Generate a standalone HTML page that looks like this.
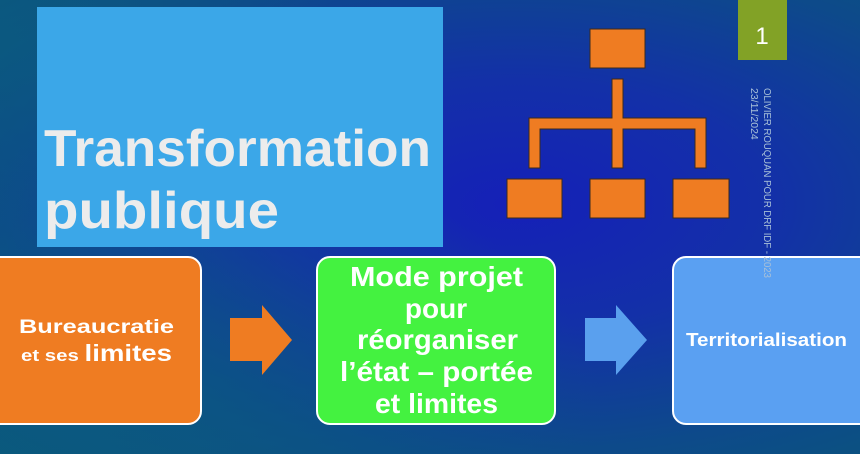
<!DOCTYPE html>
<html><head><meta charset="utf-8"><style>
html,body{margin:0;padding:0}
body{width:860px;height:454px;overflow:hidden;position:relative;
background:radial-gradient(ellipse at 60% 45%,#1520b8 0%,#1330a8 35%,#0d4a8a 70%,#0a5878 100%);
font-family:"Liberation Sans",sans-serif}
svg{position:absolute;left:0;top:0}
</style></head><body>
<svg width="860" height="454" viewBox="0 0 860 454">
<defs><radialGradient id="g1" cx="0.1" cy="0.9" r="0.6"><stop offset="0" stop-color="#0b5a80" stop-opacity="0.8"/><stop offset="1" stop-color="#0b5a80" stop-opacity="0"/></radialGradient>
<radialGradient id="g2" cx="0.0" cy="0.1" r="0.4"><stop offset="0" stop-color="#0b5a80" stop-opacity="0.8"/><stop offset="1" stop-color="#0b5a80" stop-opacity="0"/></radialGradient></defs>
<rect width="860" height="454" fill="url(#g1)"/>
<rect width="860" height="454" fill="url(#g2)"/>
<rect x="37" y="7" width="406" height="240" fill="#3ba7e8"/>
<text x="44" y="166" font-size="52" font-weight="bold" fill="#ececec" textLength="387" lengthAdjust="spacingAndGlyphs">Transformation</text>
<text x="44" y="228" font-size="52" font-weight="bold" fill="#ececec" textLength="235" lengthAdjust="spacingAndGlyphs">publique</text>
<g fill="#ef7c22" stroke="#3a2a20" stroke-width="1">
<rect x="590" y="29" width="55" height="39"/>
<path d="M612 79 H623 V118 H706 V168 H695 V129 H623 V168 H612 V129 H540 V168 H529 V118 H612 Z"/>
<rect x="507" y="179" width="55" height="39"/>
<rect x="590" y="179" width="55" height="39"/>
<rect x="673" y="179" width="56" height="39"/>
</g>
<rect x="738" y="0" width="49" height="60" fill="#82a226"/>
<text x="762" y="44" font-size="24" fill="#fff" text-anchor="middle">1</text>
<rect x="-12" y="257" width="213" height="167" rx="13" fill="#ef7c22" stroke="#fff" stroke-width="2"/>
<text x="19" y="333" font-size="19" font-weight="bold" fill="#fff" textLength="155" lengthAdjust="spacingAndGlyphs">Bureaucratie</text>
<text x="21" y="361" font-size="17" font-weight="bold" fill="#fff" textLength="151" lengthAdjust="spacingAndGlyphs">et ses <tspan font-size="23">limites</tspan></text>
<path d="M230 318 H262 V305 L292 340 L262 375 V361 H230 Z" fill="#ef7c22"/>
<rect x="317" y="257" width="238" height="167" rx="13" fill="#44f240" stroke="#fff" stroke-width="2"/>
<g font-size="28" font-weight="bold" fill="#fff">
<text x="350" y="286" textLength="173" lengthAdjust="spacingAndGlyphs">Mode projet</text>
<text x="436" y="318" text-anchor="middle">pour</text>
<text x="357" y="349" textLength="161" lengthAdjust="spacingAndGlyphs">réorganiser</text>
<text x="340" y="381" textLength="193" lengthAdjust="spacingAndGlyphs">l’état – portée</text>
<text x="375" y="413" textLength="123" lengthAdjust="spacingAndGlyphs">et limites</text>
</g>
<path d="M585 318 H616 V305 L647 340 L616 375 V361 H585 Z" fill="#5aa0ee"/>
<rect x="673" y="257" width="200" height="167" rx="13" fill="#5aa0f2" stroke="#fff" stroke-width="2"/>
<text x="686" y="346" font-size="18" font-weight="bold" fill="#fff" textLength="161" lengthAdjust="spacingAndGlyphs">Territorialisation</text>
<g transform="translate(762,88) rotate(90)" fill="#a8c0d8" font-size="10.5">
<text x="0" y="-2" textLength="190" lengthAdjust="spacingAndGlyphs">OLIVIER ROUQUAN POUR DRF IDF - 2023</text>
<text x="0" y="11">23/11/2024</text>
</g>
</svg>
</body></html>
